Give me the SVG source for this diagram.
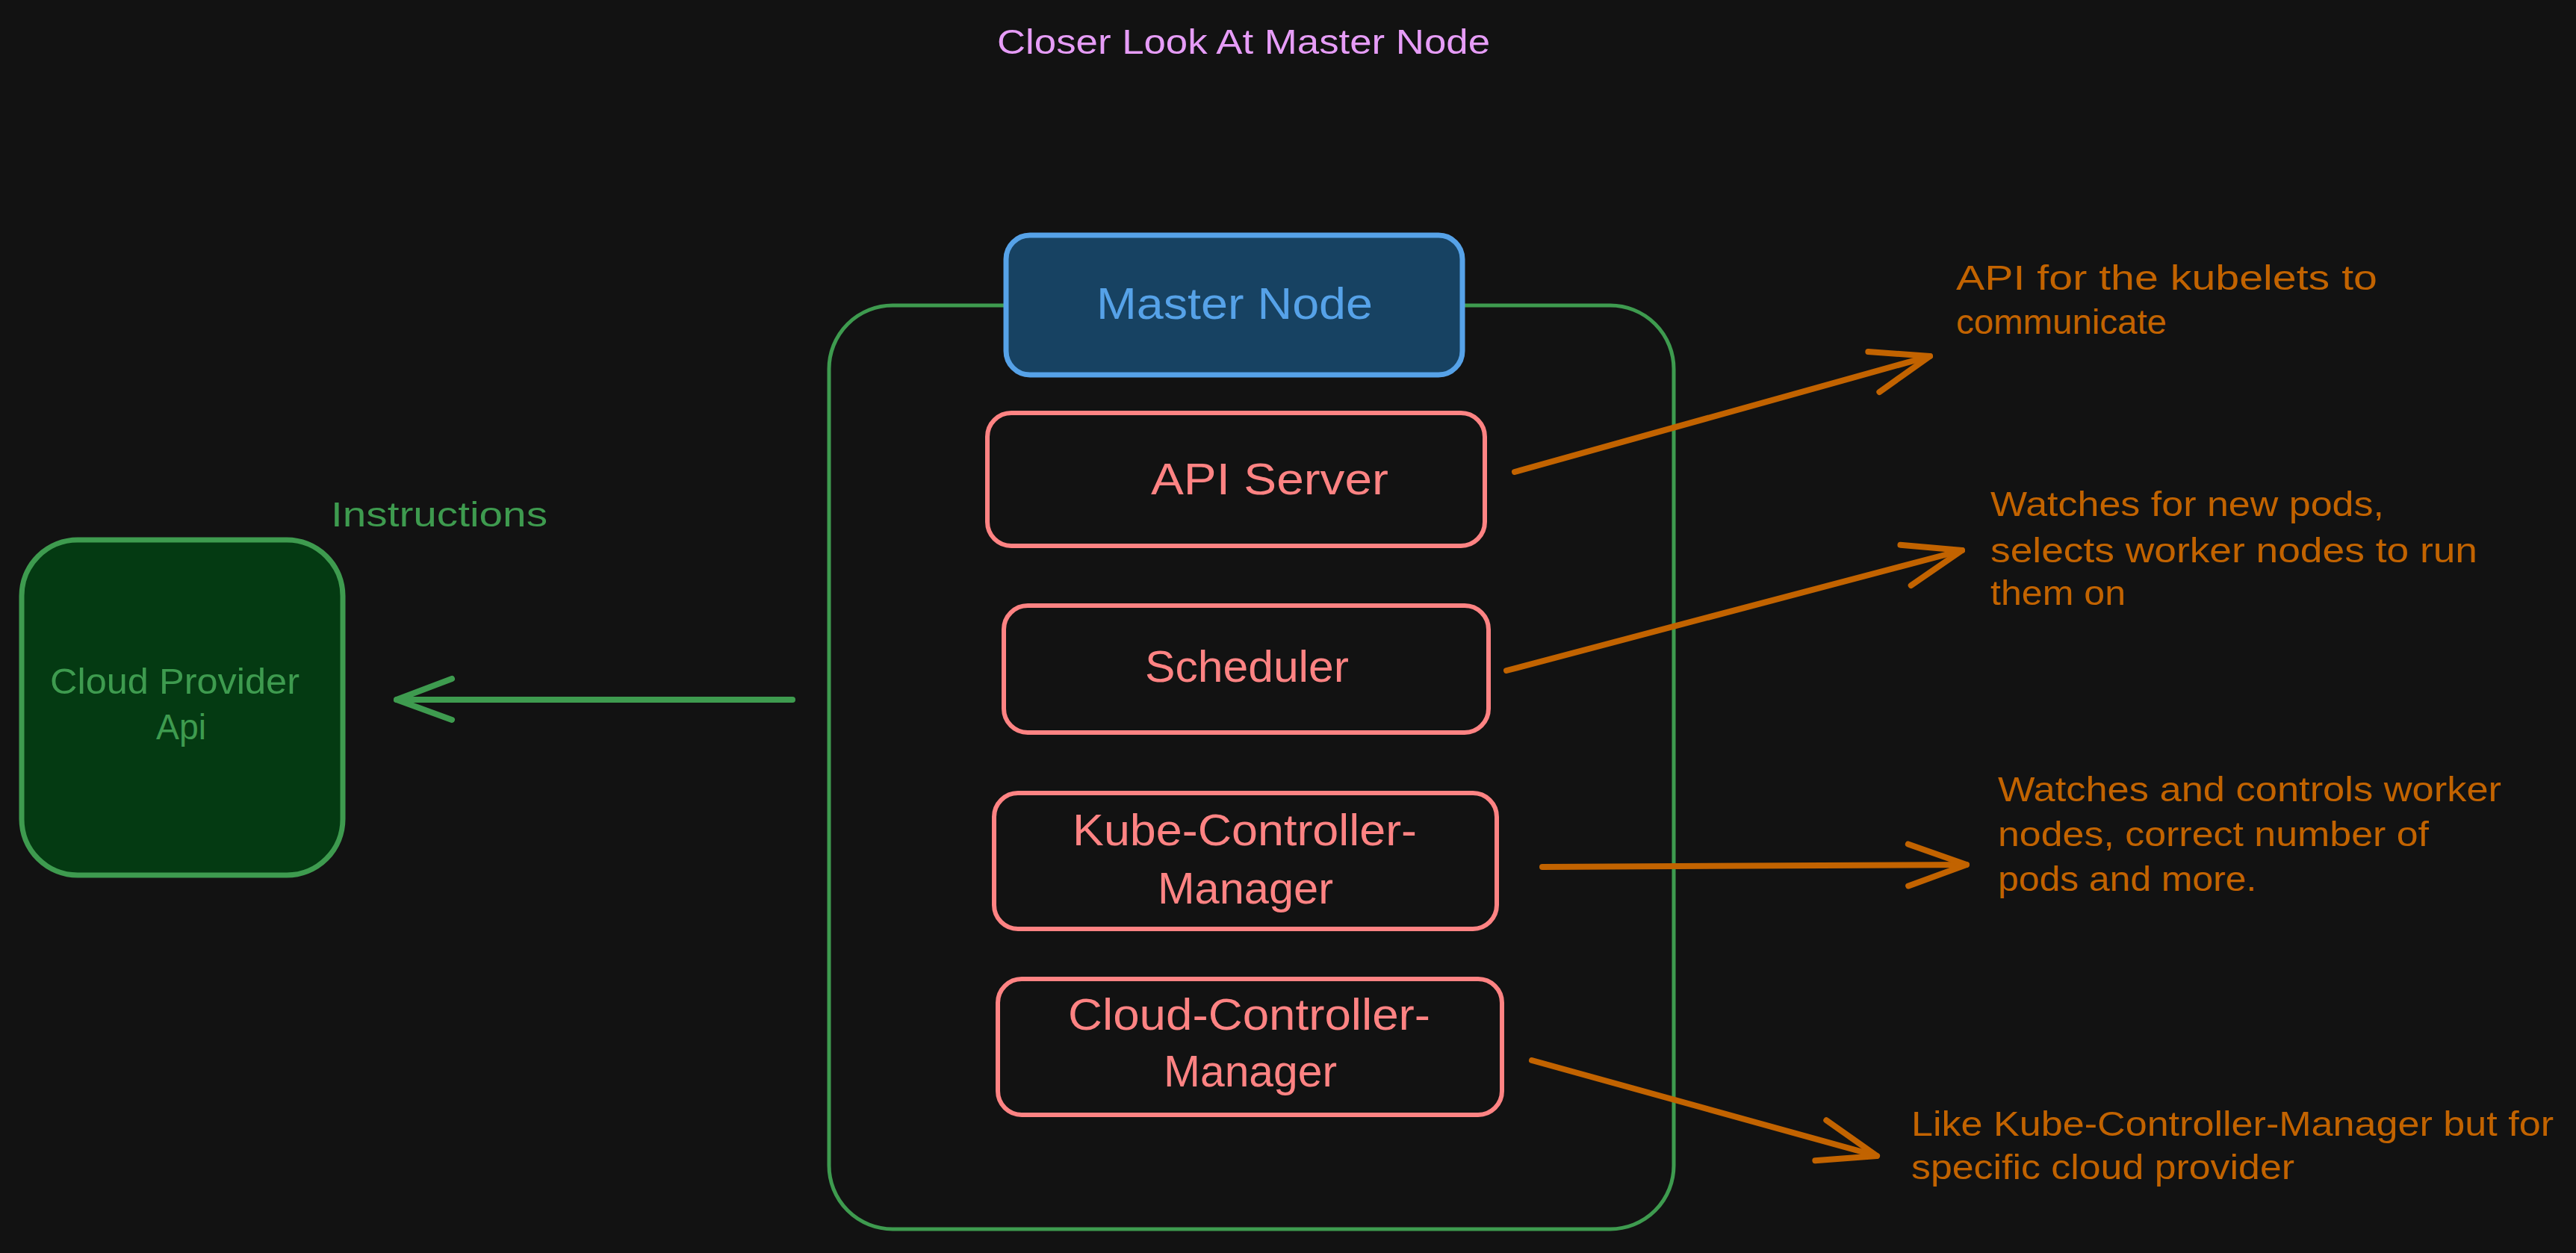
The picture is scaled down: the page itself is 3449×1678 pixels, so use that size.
<svg xmlns="http://www.w3.org/2000/svg" width="3449" height="1678" viewBox="0 0 3449 1678">
<defs>
<style>
text{font-family:"Liberation Sans","DejaVu Sans",sans-serif;}
.title{fill:#e69cf7;font-size:46px;}
.box{fill:#121212;stroke:#ff8383;stroke-width:6;}
.boxtxt{fill:#ff8383;font-size:60px;}
.ann{fill:#c26300;font-size:46px;}
.orange{fill:none;stroke:#c26300;stroke-width:8;stroke-linecap:round;}
.green{fill:none;stroke:#3e9b4f;stroke-width:8;stroke-linecap:round;}
</style>
<marker id="headO" markerUnits="userSpaceOnUse" viewBox="-90 -40 100 80" markerWidth="100" markerHeight="80" refX="0" refY="0" orient="auto" overflow="visible">
<path d="M -78 -28 L 0 0 L -78 28" fill="none" stroke="#c26300" stroke-width="8" stroke-linecap="round" stroke-linejoin="round"/>
</marker>
<marker id="headG" markerUnits="userSpaceOnUse" viewBox="-90 -40 100 80" markerWidth="100" markerHeight="80" refX="0" refY="0" orient="auto" overflow="visible">
<path d="M -74 -27 L 0 0 L -74 28" fill="none" stroke="#3e9b4f" stroke-width="8" stroke-linecap="round" stroke-linejoin="round"/>
</marker>
</defs>
<rect x="0" y="0" width="3449" height="1678" fill="#121212"/>

<g id="title">
<text class="title" x="1335" y="72" textLength="660" lengthAdjust="spacingAndGlyphs">Closer Look At Master Node</text>
</g>

<g id="container">
<rect x="1110" y="409" width="1131" height="1237" rx="85" ry="85" fill="none" stroke="#3e9b4f" stroke-width="5"/>
</g>

<g id="master-node">
<rect x="1347" y="315" width="611" height="187" rx="32" ry="32" fill="#174262" stroke="#56a2e8" stroke-width="7"/>
<text x="1468" y="427" fill="#56a2e8" font-size="60" textLength="370" lengthAdjust="spacingAndGlyphs">Master Node</text>
</g>

<g id="api-server">
<rect class="box" x="1322" y="553" width="666" height="178" rx="32" ry="32"/>
<text class="boxtxt" x="1541" y="662" textLength="318" lengthAdjust="spacingAndGlyphs">API Server</text>
</g>

<g id="scheduler">
<rect class="box" x="1344" y="811" width="649" height="170" rx="32" ry="32"/>
<text class="boxtxt" x="1533" y="913" textLength="273" lengthAdjust="spacingAndGlyphs">Scheduler</text>
</g>

<g id="kube-controller-manager">
<rect class="box" x="1331" y="1062" width="673" height="182" rx="32" ry="32"/>
<text class="boxtxt" x="1436" y="1132" textLength="461" lengthAdjust="spacingAndGlyphs">Kube-Controller-</text>
<text class="boxtxt" x="1550" y="1210" textLength="235" lengthAdjust="spacingAndGlyphs">Manager</text>
</g>

<g id="cloud-controller-manager">
<rect class="box" x="1336" y="1311" width="675" height="182" rx="32" ry="32"/>
<text class="boxtxt" x="1430" y="1379" textLength="485" lengthAdjust="spacingAndGlyphs">Cloud-Controller-</text>
<text class="boxtxt" x="1558" y="1455" textLength="232" lengthAdjust="spacingAndGlyphs">Manager</text>
</g>

<g id="cloud-provider-api">
<rect x="29" y="723" width="430" height="449" rx="75" ry="75" fill="#043a12" stroke="#3e9b4f" stroke-width="7"/>
<text x="67" y="929" fill="#3e9b4f" font-size="48" textLength="334" lengthAdjust="spacingAndGlyphs">Cloud Provider</text>
<text x="209" y="990" fill="#3e9b4f" font-size="48" textLength="67" lengthAdjust="spacingAndGlyphs">Api</text>
</g>

<g id="instructions-label">
<text x="443" y="705" fill="#3e9b4f" font-size="46" textLength="290" lengthAdjust="spacingAndGlyphs">Instructions</text>
</g>

<g id="connectors">
<path class="green" d="M 1061 937 L 531 937" marker-end="url(#headG)"/>
<path class="orange" d="M 2028 632 L 2584 477" marker-end="url(#headO)"/>
<path class="orange" d="M 2017 898 L 2627 737" marker-end="url(#headO)"/>
<path class="orange" d="M 2065 1161 L 2633 1158" marker-end="url(#headO)"/>
<path class="orange" d="M 2051 1420 L 2513 1548" marker-end="url(#headO)"/>
</g>

<g id="note-api">
<text class="ann" x="2619" y="388" textLength="564" lengthAdjust="spacingAndGlyphs">API for the kubelets to</text>
<text class="ann" x="2619" y="447" textLength="282" lengthAdjust="spacingAndGlyphs">communicate</text>
</g>

<g id="note-scheduler">
<text class="ann" x="2665" y="691" textLength="527" lengthAdjust="spacingAndGlyphs">Watches for new pods,</text>
<text class="ann" x="2665" y="753" textLength="652" lengthAdjust="spacingAndGlyphs">selects worker nodes to run</text>
<text class="ann" x="2665" y="810" textLength="181" lengthAdjust="spacingAndGlyphs">them on</text>
</g>

<g id="note-kcm">
<text class="ann" x="2675" y="1073" textLength="674" lengthAdjust="spacingAndGlyphs">Watches and controls worker</text>
<text class="ann" x="2675" y="1133" textLength="577" lengthAdjust="spacingAndGlyphs">nodes, correct number of</text>
<text class="ann" x="2675" y="1193" textLength="346" lengthAdjust="spacingAndGlyphs">pods and more.</text>
</g>

<g id="note-ccm">
<text class="ann" x="2559" y="1521" textLength="860" lengthAdjust="spacingAndGlyphs">Like Kube-Controller-Manager but for</text>
<text class="ann" x="2559" y="1579" textLength="513" lengthAdjust="spacingAndGlyphs">specific cloud provider</text>
</g>
</svg>
